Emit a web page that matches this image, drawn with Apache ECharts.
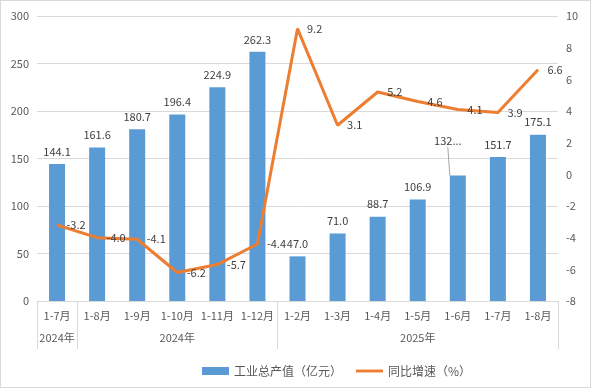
<!DOCTYPE html>
<html><head><meta charset="utf-8">
<script src="https://cdn.jsdelivr.net/npm/echarts@6/dist/echarts.min.js"></script>
<style>html,body{margin:0;padding:0;background:#fff;}#c{width:591px;height:388px;box-sizing:border-box;border:1px solid #d9d9d9;}</style>
</head><body><div id="c"></div>
<script>
const categories = ['1-7月','1-8月','1-9月','1-10月','1-11月','1-12月','1-2月','1-3月','1-4月','1-5月','1-6月','1-7月','1-8月'];
const yearLabels = ['2024年','','','2024年','','','','','','2025年','','',''];
const groupStarts = [0, 1, 6];
const outputValues = [144.1, 161.6, 180.7, 196.4, 224.9, 262.3, 47.0, 71.0, 88.7, 106.9, 132.0, 151.7, 175.1];
const growthValues = [-3.2, -4.0, -4.1, -6.2, -5.7, -4.4, 9.2, 3.1, 5.2, 4.6, 4.1, 3.9, 6.6];
const leftTicks = [0, 300, 50];
const rightTicks = [-8, 10, 2];
const movedLabelIndex = 10;

const FONT = 'Noto Sans CJK SC';
const TXT = '#595959';
const barData = outputValues.map((v, i) => i === movedLabelIndex
  ? {value: v, labelLine: {show: true, lineStyle: {color: '#a6a6a6', width: 1}}}
  : {value: v});
const chart = echarts.init(document.getElementById('c'), null, {renderer: 'canvas'});
chart.setOption({
  animation: false,
  textStyle: {fontFamily: FONT},
  grid: {left: 36, right: 32, top: 15, bottom: 86, containLabel: false},
  legend: {
    top: 359, left: 196, itemGap: 14, itemWidth: 27, itemHeight: 8,
    textStyle: {fontFamily: FONT, fontSize: 12, color: TXT},
    data: [{name: '工业总产值（亿元）', icon: 'rect'},
           {name: '同比增速（%）', icon: 'path://M0,0 H30 V3.2 H0 Z'}]
  },
  xAxis: [{
    type: 'category', data: categories,
    axisLine: {lineStyle: {color: '#d9d9d9'}},
    axisTick: {show: true, length: 48, lineStyle: {color: '#d9d9d9'},
      interval: (i) => groupStarts.includes(i)},
    axisLabel: {interval: 0, color: TXT, fontSize: 11, fontFamily: FONT, margin: 9}
  }, {
    type: 'category', data: yearLabels, position: 'bottom', offset: 22,
    axisLine: {show: false}, axisTick: {show: false},
    axisLabel: {interval: 0, color: TXT, fontSize: 11, fontFamily: FONT, margin: 9}
  }],
  yAxis: [{
    type: 'value', min: leftTicks[0], max: leftTicks[1], interval: leftTicks[2],
    axisLine: {show: false}, axisTick: {show: false},
    splitLine: {lineStyle: {color: '#d9d9d9'}},
    axisLabel: {color: TXT, fontSize: 11, fontFamily: FONT, margin: 8}
  }, {
    type: 'value', min: rightTicks[0], max: rightTicks[1], interval: rightTicks[2],
    axisLine: {show: false}, axisTick: {show: false}, splitLine: {show: false},
    axisLabel: {color: TXT, fontSize: 11, fontFamily: FONT, margin: 8}
  }],
  series: [{
    name: '工业总产值（亿元）', type: 'bar', data: barData, barWidth: 16,
    itemStyle: {color: '#5b9bd5'},
    label: {show: true, position: 'top', color: '#404040', fontSize: 11, fontFamily: FONT, distance: 7,
      formatter: (p) => p.dataIndex === movedLabelIndex ? Math.floor(p.value) + '...' : p.value.toFixed(1)},
    labelLine: {show: false},
    labelLayout: (p) => p.dataIndex === movedLabelIndex ? {
      x: p.labelRect.x + p.labelRect.width / 2 - 10,
      y: p.labelRect.y + p.labelRect.height / 2 - 22,
      align: 'center', verticalAlign: 'middle'} : {}
  }, {
    name: '同比增速（%）', type: 'line', yAxisIndex: 1, data: growthValues,
    symbol: 'circle', symbolSize: 1, showSymbol: true,
    lineStyle: {color: '#ed7d31', width: 3}, itemStyle: {color: '#ed7d31'},
    label: {show: true, position: 'right', distance: 9, color: '#404040', fontSize: 11, fontFamily: FONT,
      formatter: (p) => p.value.toFixed(1)}
  }]
});
</script></body></html>
